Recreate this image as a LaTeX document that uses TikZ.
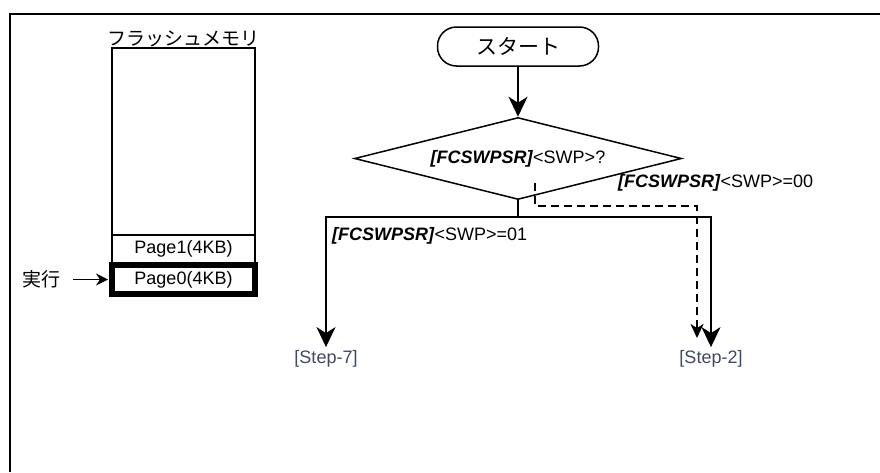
\documentclass[tikz,border=0pt]{standalone}
\usepackage{fontspec}
\setmainfont{Liberation Sans}
\newfontfamily\jpfont{Noto Sans CJK JP}
\usetikzlibrary{positioning, arrows.meta, shapes.geometric}
\definecolor{steptext}{RGB}{64,72,104}
\newcommand{\regname}{\textbf{\textit{[FCSWPSR]}}}

\begin{document}
\begin{tikzpicture}[
  x=1pt, y=-1pt,
  font=\fontsize{18}{21}\selectfont,
  terminal/.style={rectangle, draw, line width=1.5pt, rounded corners=19pt,
                   minimum width=161pt, minimum height=39pt,
                   font=\fontsize{21}{24}\selectfont\jpfont},
  decision/.style={diamond, draw, line width=1.5pt, aspect=4, inner sep=0pt,
                   minimum width=327pt, minimum height=82pt},
  membox/.style={rectangle, draw, line width=1.8pt, outer sep=0pt,
                 minimum width=143pt, inner sep=0pt},
  steplabel/.style={text=steptext},
  cond/.style={anchor=west, inner sep=0pt},
  arr/.style={line width=2pt, -{Stealth[length=20pt, width=19pt, inset=6pt]}},
  dasharr/.style={line width=2pt, dash pattern=on 8pt off 5pt,
                  -{Stealth[length=14pt, width=13pt, inset=4pt]}},
  execarr/.style={line width=1.8pt, -{Stealth[length=12pt, width=12pt, inset=4pt]}}
]
  \useasboundingbox (0,0) rectangle (880,472);
  \draw[line width=2pt] (9.5,472) -- (9.5,14) -- (880,14);

  % flash memory map
  \node[membox, minimum height=187pt] (flash) at (183.5,141.5) {};
  \node[font=\fontsize{19}{21}\selectfont\jpfont, inner sep=1pt,
        above=0pt of flash] (flashtitle) {フラッシュメモリ};
  \node[membox, minimum height=28pt, below=0pt of flash] (page1) {Page1(4KB)};
  \node[membox, line width=6pt, minimum height=29pt,
        below=2pt of page1] (page0) {Page0(4KB)};
  \node[font=\fontsize{19}{21}\selectfont\jpfont] (exec) at (41,279.5) {実行};
  \draw[execarr, shorten <=9pt, shorten >=4pt] (exec.east) -- (exec.east -| page0.west);

  % flow
  \node[terminal] (start) at (518,46.5) {スタート};
  \node[decision, below=50pt of start] (swpchk) {\regname<SWP>?};
  \coordinate[below=17pt of swpchk.south] (split);
  \node[steplabel] (step7) at (326,359) {[Step-7]};
  \node[steplabel] (step2) at (711,359) {[Step-2]};
  \node[cond] (cond00) at (618,183) {\regname<SWP>=00};
  \node[cond] (cond01) at (332,236) {\regname<SWP>=01};
  \coordinate (dashstart) at (535,183);
  \coordinate (dashturn) at (697,206);
  \coordinate (dashend) at (697,338);

  % edges
  \draw[arr] (start) -- (swpchk);
  \draw[line width=2pt] (swpchk.south) -- (split);
  \draw[arr] (split) -| (step7);
  \draw[arr] (split) -| (step2);
  \draw[dasharr] (dashstart) |- (dashturn) -- (dashend);
\end{tikzpicture}
\end{document}
